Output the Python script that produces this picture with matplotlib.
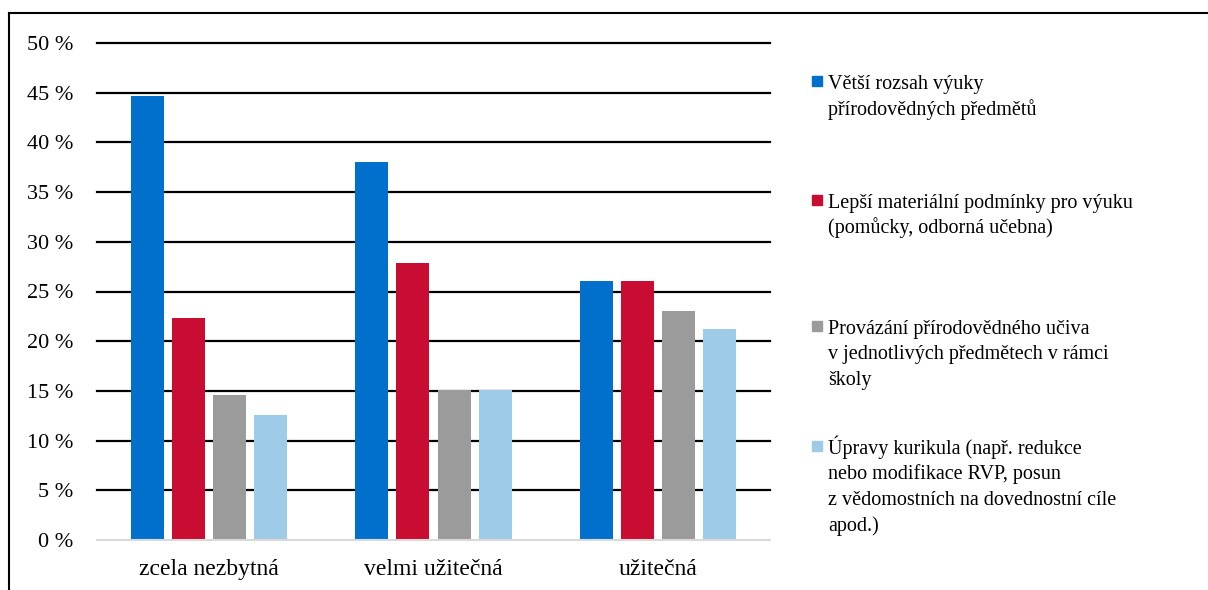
import matplotlib
matplotlib.use('Agg')
from matplotlib import pyplot as plt
from matplotlib.patches import Rectangle
from matplotlib.lines import Line2D
import numpy as np

plt.rcParams['font.family'] = ['Liberation Serif', 'DejaVu Serif']

categories = ['zcela nezbytná', 'velmi užitečná', 'užitečná']
series = [
    'Větší rozsah výuky\npřírodovědných předmětů',
    'Lepší materiální podmínky pro výuku\n(pomůcky, odborná učebna)',
    'Provázání přírodovědného učiva\nv jednotlivých předmětech v rámci\nškoly',
    'Úpravy kurikula (např. redukce\nnebo modifikace RVP, posun\nz vědomostních na dovednostní cíle\napod.)',
]
values = [
    [44.7, 38.0, 26.1],
    [22.3, 27.9, 26.1],
    [14.6, 15.1, 23.0],
    [12.6, 15.1, 21.2],
]
colors = ['#0070CC', '#C80C32', '#9B9B9B', '#9DCBE8']
yticks = [0, 5, 10, 15, 20, 25, 30, 35, 40, 45, 50]

W, H = 1208, 590
fig = plt.figure(figsize=(W / 100, H / 100), dpi=100)
ax = fig.add_axes([97 / W, 1 - 540 / H, (770 - 97) / W, (540 - 43) / H])

x = np.arange(len(categories))
bw = 0.147
step = 0.183
for i, (vals, c) in enumerate(zip(values, colors)):
    ax.bar(x + (i - 1.5) * step, vals, width=bw, color=c, zorder=3)

ax.set_xlim(-0.5, len(categories) - 0.5)
ax.set_ylim(0, 50)
ax.set_yticks(yticks)
ax.set_yticklabels([f'{t} %' for t in yticks], fontsize=16)
ax.set_xticks(x)
ax.set_xticklabels(categories, fontsize=17)
ax.tick_params(axis='y', length=0, pad=17)
ax.tick_params(axis='x', length=0, pad=14)
for t in yticks[1:]:
    ax.axhline(t, color='black', lw=1.6, zorder=1, clip_on=False)
for s in ['top', 'right', 'left']:
    ax.spines[s].set_visible(False)
ax.spines['bottom'].set_color('#D9D9D9')
ax.spines['bottom'].set_linewidth(1.5)
ax.spines['bottom'].set_zorder(4)

# legend, drawn by hand to follow the reference layout
leg_base = [89, 208, 334, 454]   # baseline of first line, px from top
line_h = 25.5
for lab, c, yb in zip(series, colors, leg_base):
    fig.patches.append(Rectangle((812 / W, 1 - (yb - 3) / H), 10 / W, 10 / H,
                                 transform=fig.transFigure, color=c))
    for k, line in enumerate(lab.split('\n')):
        fig.text(828 / W, 1 - (yb + k * line_h) / H, line, fontsize=14.5,
                 va='baseline', ha='left')

# frame of the original picture (top and left edges visible)
fig.lines.append(Line2D([9 / W, 1], [1 - 13 / H, 1 - 13 / H],
                        transform=fig.transFigure, color='black', lw=1.5))
fig.lines.append(Line2D([9 / W, 9 / W], [0, 1 - 13 / H],
                        transform=fig.transFigure, color='black', lw=1.5))

fig.savefig('out.png', dpi=100)
